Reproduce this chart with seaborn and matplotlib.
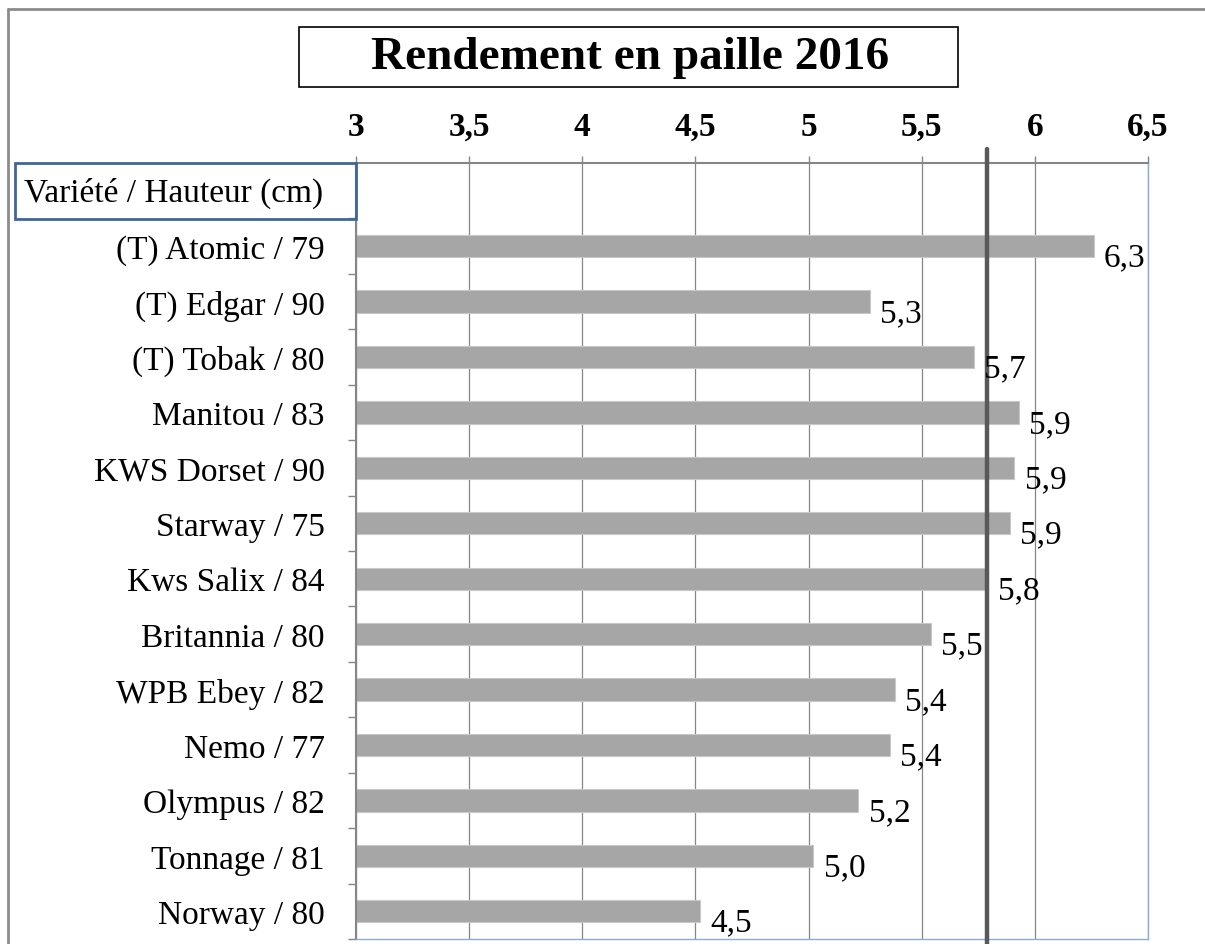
import matplotlib
matplotlib.use("Agg")
import matplotlib.pyplot as plt
from matplotlib.patches import Rectangle
from matplotlib.lines import Line2D
from matplotlib.ticker import FixedLocator
import seaborn as sns
import pandas as pd

title = "Rendement en paille 2016"
header = "Variété / Hauteur (cm)"
varieties = ["(T) Atomic / 79", "(T) Edgar / 90", "(T) Tobak / 80", "Manitou / 83",
             "KWS Dorset / 90", "Starway / 75", "Kws Salix / 84", "Britannia / 80",
             "WPB Ebey / 82", "Nemo / 77", "Olympus / 82", "Tonnage / 81", "Norway / 80"]
values = [6.26, 5.27, 5.73, 5.93, 5.91, 5.89, 5.79, 5.54, 5.38, 5.36, 5.22, 5.02, 4.52]
reference = 5.79
xticks = [3, 3.5, 4, 4.5, 5, 5.5, 6, 6.5]
xtick_labels = ["3", "3,5", "4", "4,5", "5", "5,5", "6", "6,5"]

sns.set_style("white")
plt.rcParams['font.family'] = ['Liberation Serif', 'DejaVu Serif']
plt.rcParams['text.color'] = 'black'
plt.rcParams['xtick.labelcolor'] = 'black'
plt.rcParams['ytick.labelcolor'] = 'black'

W, H = 1205, 945
fig = plt.figure(figsize=(W / 100, H / 100), dpi=100)
L, R, T, B = 356, 1148, 164, 940
ax = fig.add_axes([L / W, 1 - B / H, (R - L) / W, (B - T) / H])

df = pd.DataFrame({"variety": varieties, "value": values})
sns.barplot(data=df, x="value", y="variety", orient="h", color="#a6a6a6",
            saturation=1, width=0.4, edgecolor="#c8c8c8", linewidth=0.8, ax=ax, zorder=2)

n = len(varieties)
ax.set_xlim(3, 6.5)
ax.set_ylim(n - 0.5, -1.5)
ax.set_xlabel("")
ax.set_ylabel("")

# x axis on top
ax.xaxis.tick_top()
ax.set_xticks(xticks)
ax.set_xticklabels(xtick_labels, fontsize=24, fontweight="bold")
ax.tick_params(axis="x", direction="out", length=5, width=1, color="#868686", pad=10)
ax.grid(axis="x", color="#868686", linewidth=0.9, zorder=0)
ax.set_axisbelow(True)

# y axis
ax.set_yticks(range(n))
ax.set_yticklabels(varieties, fontsize=24)
ax.tick_params(axis="y", which="major", length=0, pad=22.5)
ax.yaxis.set_minor_locator(FixedLocator([i - 0.5 for i in range(-1, n + 1)]))
ax.tick_params(axis="y", which="minor", direction="out", length=6, width=1, color="#868686", left=True)

for s in ["top", "left"]:
    ax.spines[s].set_color("#868686")
    ax.spines[s].set_linewidth(1.5)
for s in ["right", "bottom"]:
    ax.spines[s].set_color("#8eaadb")
    ax.spines[s].set_linewidth(1.0)

# reference line
ax.axvline(reference, ymin=-0.01, ymax=1.018, color="#595959", linewidth=3.2, zorder=3, clip_on=False)

# data labels
for i, v in enumerate(values):
    ax.annotate(f"{v:.1f}".replace(".", ","), xy=(v, i), xytext=(7.5, -8),
                textcoords="offset points", ha="left", va="center", fontsize=24, zorder=4)

# header box
fig.patches.append(Rectangle((15 / W, 1 - 220 / H), (L - 15) / W, (220 - 164) / H,
                             transform=fig.transFigure, fill=False, edgecolor="#3f6698",
                             linewidth=2))
fig.text(24 / W, 1 - 193 / H, header, fontsize=24, ha="left", va="center")

# title box
fig.patches.append(Rectangle((299 / W, 1 - 88 / H), (958 - 299) / W, (88 - 28) / H,
                             transform=fig.transFigure, fill=False, edgecolor="black",
                             linewidth=1.2))
fig.text(630 / W, 1 - 58 / H, title, fontsize=34, fontweight="bold", ha="center", va="center")

# outer frame lines
fig.lines.append(Line2D([8 / W, 1], [1 - 10 / H, 1 - 10 / H], transform=fig.transFigure,
                        color="#8c8c8c", linewidth=2))
fig.lines.append(Line2D([8 / W, 8 / W], [0, 1 - 10 / H], transform=fig.transFigure,
                        color="#8c8c8c", linewidth=2))

fig.savefig("out.png", dpi=100)
